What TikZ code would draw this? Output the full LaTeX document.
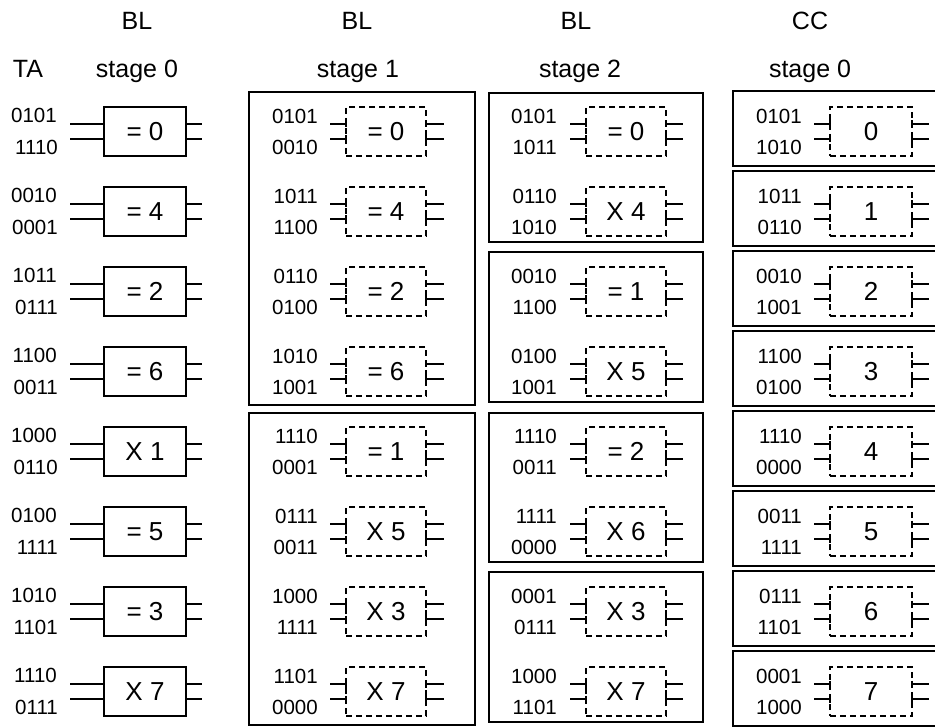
\documentclass[tikz,border=0pt]{standalone}
\usepackage{fontspec}
\setmainfont{Liberation Sans}
\begin{document}
\begin{tikzpicture}[x=1pt,y=-1pt,
  lbl/.style={anchor=east, inner sep=0pt, font=\fontsize{20.5}{20.5}\selectfont},
  hdr/.style={anchor=base, inner sep=0pt, font=\fontsize{25}{25}\selectfont},
  gate/.style={draw, line width=1.8pt, minimum width=82pt, minimum height=49pt,
    inner sep=0pt, outer sep=0pt, font=\fontsize{26}{26}\selectfont},
  dgate/.style={gate, line width=1.7pt, minimum width=80pt, dash pattern=on 6pt off 4pt},
  wire/.style={line width=1.8pt},
  frame/.style={line width=2.5pt}]
\useasboundingbox (0,0) rectangle (935,727);

% column headings
\node[hdr] (h1a) at (137,30) {BL};
\node[hdr] (h2a) at (357,30) {BL};
\node[hdr] (h3a) at (576,30) {BL};
\node[hdr] (h4a) at (810,30) {CC};
\node[hdr] (ta)  at (28,78) {TA};
\node[hdr] (h1b) at (137,78) {stage 0};
\node[hdr] (h2b) at (358,78) {stage 1};
\node[hdr] (h3b) at (580,78) {stage 2};
\node[hdr] (h4b) at (810,78) {stage 0};

% BL stage 0: solid comparators
\foreach \i/\a/\b/\t in {1/0101/1110/= 0, 2/0010/0001/= 4, 3/1011/0111/= 2,
    4/1100/0011/= 6, 5/1000/0110/X 1, 6/0100/1111/= 5, 7/1010/1101/= 3, 8/1110/0111/X 7}{
  \pgfmathsetmacro{\yc}{131.5+80*(\i-1)}
  \node[gate] (ga\i) at (145,\yc) {\t};
  \node[lbl] (ua\i) at (57,\yc-16) {\a};
  \node[lbl] (va\i) at (58,\yc+15.5) {\b};
  \draw[wire] ([yshift=7.5pt]ga\i.west) -- ++(-34,0);
  \draw[wire] ([yshift=-7.5pt]ga\i.west) -- ++(-34,0);
  \draw[wire] ([yshift=7.5pt]ga\i.east) -- ++(16,0);
  \draw[wire] ([yshift=-7.5pt]ga\i.east) -- ++(16,0);
}

% dashed comparator with short wires ending in ticks
\newcommand{\dcell}[2]{% #1 node name, #2 wire length right
  \foreach \s in {7.5,-7.5}{
    \draw[wire] ([yshift=\s pt]#1.west) -- ++(-16,0);
    \draw[wire] ([yshift=\s pt]#1.west) ++(0,-3.5) -- ++(0,7);
    \draw[wire] ([yshift=\s pt]#1.east) -- ++(#2,0);
    \draw[wire] ([yshift=\s pt]#1.east) ++(0,-3.5) -- ++(0,7);
  }}

% BL stage 1
\foreach \i/\a/\b/\t in {1/0101/0010/= 0, 2/1011/1100/= 4, 3/0110/0100/= 2,
    4/1010/1001/= 6, 5/1110/0001/= 1, 6/0111/0011/X 5, 7/1000/1111/X 3, 8/1101/0000/X 7}{
  \pgfmathsetmacro{\yc}{131.5+80*(\i-1)}
  \node[dgate] (gb\i) at (386,\yc) {\t};
  \node[lbl] (ub\i) at (318,\yc-15) {\a};
  \node[lbl] (vb\i) at (318,\yc+15.5) {\b};
  \dcell{gb\i}{18}
}

% BL stage 2
\foreach \i/\a/\b/\t in {1/0101/1011/= 0, 2/0110/1010/X 4, 3/0010/1100/= 1,
    4/0100/1001/X 5, 5/1110/0011/= 2, 6/1111/0000/X 6, 7/0001/0111/X 3, 8/1000/1101/X 7}{
  \pgfmathsetmacro{\yc}{131.5+80*(\i-1)}
  \node[dgate] (gc\i) at (626,\yc) {\t};
  \node[lbl] (uc\i) at (557,\yc-15) {\a};
  \node[lbl] (vc\i) at (557,\yc+15.5) {\b};
  \dcell{gc\i}{17}
}

% CC stage 0
\foreach \i/\a/\b/\t in {1/0101/1010/0, 2/1011/0110/1, 3/0010/1001/2,
    4/1100/0100/3, 5/1110/0000/4, 6/0011/1111/5, 7/0111/1101/6, 8/0001/1000/7}{
  \pgfmathsetmacro{\yc}{131.5+80*(\i-1)}
  \node[dgate, minimum width=82pt] (gd\i) at (871,\yc) {\t};
  \node[lbl] (ud\i) at (802,\yc-15) {\a};
  \node[lbl] (vd\i) at (802,\yc+15.5) {\b};
  \dcell{gd\i}{17}
  \draw[frame] (733,\yc-40.5) rectangle (945,\yc+34.5);
}

% group frames
\draw[frame] (249,92) rectangle (475,405);
\draw[frame] (249,413) rectangle (475,725);
\draw[frame] (489,93) rectangle (703,242);
\draw[frame] (489,252) rectangle (703,402);
\draw[frame] (489,413) rectangle (703,562);
\draw[frame] (489,572) rectangle (703,722);
\end{tikzpicture}
\end{document}
